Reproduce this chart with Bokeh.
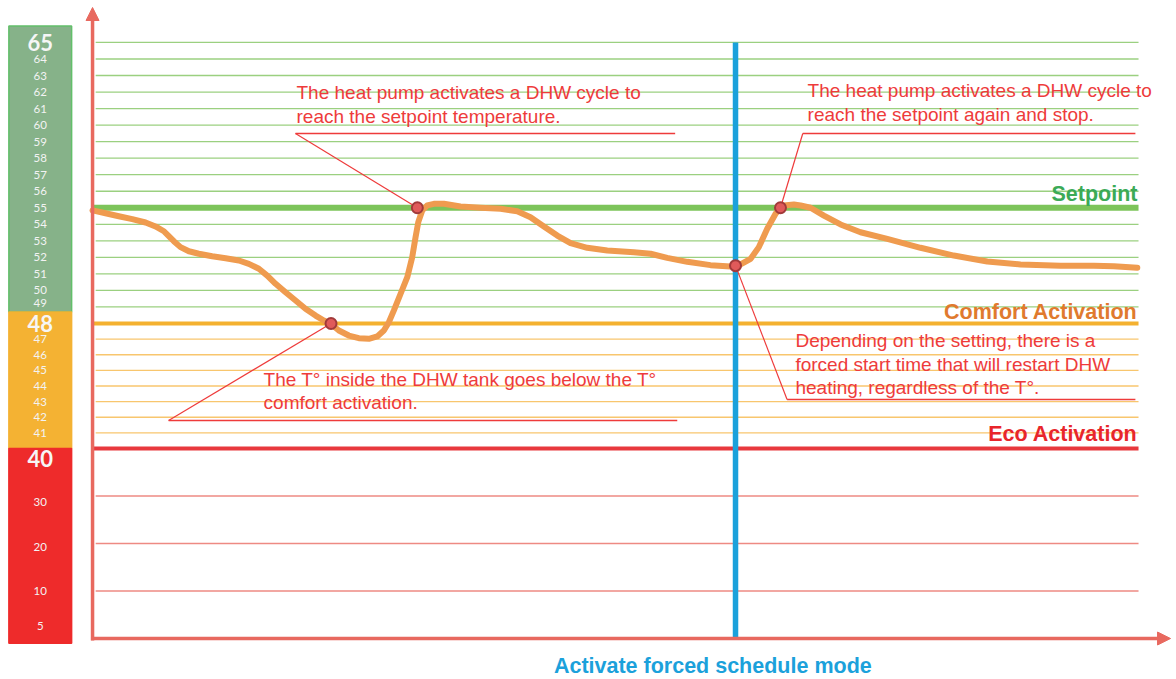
import numpy as np
from bokeh.plotting import figure
from bokeh.models import Range1d, Arrow, NormalHead
from bokeh.core.properties import value
from bokeh.embed import file_html
from bokeh.resources import INLINE

# ---------------- data ----------------
# tank temperature (°C) against time (arbitrary units 0..100)
time = [0.0, 1.24, 2.51, 3.80, 5.07, 6.02, 6.82, 7.29, 7.77, 8.41, 9.21, 10.16, 11.44,
        12.72, 13.99, 14.94, 15.90, 16.70, 17.50, 18.45, 19.41, 20.36, 21.32, 22.11,
        22.82, 23.55, 24.50, 25.46, 26.42, 27.22, 27.85, 28.33, 28.81, 29.45, 30.09,
        30.56, 30.88, 31.14, 31.52, 32.00, 32.63, 33.59, 35.18, 37.09, 39.01, 40.60,
        41.87, 43.15, 44.43, 45.70, 47.29, 49.21, 51.75, 53.35, 54.94, 56.86, 59.08,
        61.00, 61.95, 62.91, 63.70, 64.50, 65.30, 66.09, 67.05, 67.69, 68.64, 69.92,
        71.51, 73.42, 75.98, 79.16, 82.34, 85.54, 88.72, 92.54, 95.73, 97.64, 99.88]
temp = [54.84, 54.67, 54.49, 54.31, 54.11, 53.87, 53.58, 53.28, 52.98, 52.62, 52.37,
        52.22, 52.07, 51.95, 51.81, 51.61, 51.31, 50.90, 50.40, 49.89, 49.39, 48.89,
        48.48, 48.18, 47.95, 47.55, 47.23, 47.06, 47.02, 47.17, 47.55, 48.08, 48.79,
        49.80, 50.80, 52.01, 53.22, 54.13, 54.84, 55.14, 55.24, 55.24, 55.08, 55.00,
        54.94, 54.79, 54.43, 53.87, 53.32, 52.86, 52.58, 52.42, 52.31, 52.22, 51.97,
        51.73, 51.53, 51.45, 51.57, 51.91, 52.62, 53.73, 54.64, 55.14, 55.20, 55.14,
        55.00, 54.53, 53.99, 53.52, 53.12, 52.58, 52.11, 51.75, 51.57, 51.49, 51.49,
        51.47, 51.37]

event_time = [31.05, 22.8, 65.77, 61.47]
event_temp = [55.0, 48.0, 55.0, 51.5]

forced_time = 61.47          # "Activate forced schedule mode"
setpoint = 55
comfort = 48
eco = 40

green_ticks = list(range(49, 66))      # 49..65
orange_ticks = list(range(41, 48))     # 41..47
red_ticks = [10, 20, 30]

band_labels = [65, 64, 63, 62, 61, 60, 59, 58, 57, 56, 55, 54, 53, 52, 51, 50, 49,
               48, 47, 46, 45, 44, 43, 42, 41, 40, 30, 20, 10, 5]
band_bold = [65, 48, 40]
band_edges = [66.0, 48.7, 40.0, -1.0]

callout_texts = [
    ["The heat pump activates a DHW cycle to", "reach the setpoint temperature."],
    ["The T° inside the DHW tank goes below the T°", "comfort activation."],
    ["The heat pump activates a DHW cycle to", "reach the setpoint again and stop."],
    ["Depending on the setting, there is a", "forced start time that will restart DHW",
     "heating, regardless of the T°."],
]

# ---------------- scale (compressed below 40 °C) ----------------
SCALE_T = [-10, 40, 48, 70]
SCALE_POS = [-47.5, 190, 315, 678.7]


def pos(t):
    return np.interp(t, SCALE_T, SCALE_POS)


# ---------------- styles ----------------
AXIS_C = "#E8695F"
GREEN_THIN = "#9BD080"
GREEN_THICK = "#7DC45A"
ORANGE_THIN = "#F8C66E"
ORANGE_THICK = "#F4B130"
RED_THIN = "#EE8A83"
RED_THICK = "#E8383D"
BLUE = "#1BA1DB"
CURVE = "#EF9B4F"
NOTE = "#EE3B3B"
SANS = value("Liberation Sans")

p = figure(width=1176, height=679, output_backend="svg", toolbar_location=None,
           x_axis_type=None, y_axis_type=None, min_border=0,
           x_range=Range1d(-8.80, 103.63), y_range=Range1d(-41, 638))
p.grid.visible = False
p.outline_line_color = None
p.background_fill_color = "white"
p.border_fill_color = "white"

X0, X1 = 0.3, 100.0

# thin guide lines
for ticks, col in ((green_ticks, GREEN_THIN), (orange_ticks, ORANGE_THIN), (red_ticks, RED_THIN)):
    tk = [t for t in ticks if t != setpoint]
    p.segment(x0=[X0] * len(tk), x1=[X1] * len(tk), y0=pos(tk), y1=pos(tk),
              line_color=col, line_width=1.3)

# threshold lines
p.segment(x0=[0.0], x1=[X1], y0=pos([setpoint]), y1=pos([setpoint]), line_color=GREEN_THICK, line_width=6)
p.segment(x0=[0.0], x1=[X1], y0=pos([comfort]), y1=pos([comfort]), line_color=ORANGE_THICK, line_width=4)
p.segment(x0=[0.0], x1=[X1], y0=pos([eco]), y1=pos([eco]), line_color=RED_THICK, line_width=4)

# forced schedule vertical line
p.segment(x0=[forced_time], x1=[forced_time], y0=[0], y1=pos([65]), line_color=BLUE, line_width=5.5)

# left colour band
band_cols = ["#86B289", "#F4B233", "#EE2B2B"]
band_lines = ["#62BF6A", "#F4B233", "#EE2B2B"]
for i in range(3):
    p.quad(left=-8.0, right=-2.0, top=pos(band_edges[i]), bottom=pos(band_edges[i + 1]),
           fill_color=band_cols[i], line_color=band_lines[i], line_width=1.5)

nudge = {40: -10, 30: -6, 20: -3, 5: -11, 49: 4}
small = [v for v in band_labels if v not in band_bold]
p.text(x=[-5.0] * len(small), y=[float(pos(v)) + nudge.get(v, 0) for v in small],
       text=[str(v) for v in small], text_align="center", text_baseline="middle",
       text_font=value("Lato"), text_font_size="11.5px", text_color="#F3F3F3")
p.text(x=[-5.0] * len(band_bold), y=[float(pos(v)) + nudge.get(v, 0) for v in band_bold],
       text=[str(v) for v in band_bold], text_align="center", text_baseline="middle",
       text_font=value("Lato"), text_font_style="bold", text_font_size="22px", text_color="#F6F6F6")

# callout layout (t, height above x axis)
layout = [
    dict(tx=19.5, ty=[546, 522], rule=(19.4, 55.7, 505), ev=0),
    dict(tx=16.35, ty=[259, 236], rule=(7.27, 55.9, 218), ev=1),
    dict(tx=68.36, ty=[548, 524], rule=(67.9, 99.7, 505), ev=2),
    dict(tx=67.2, ty=[298, 274, 251], rule=(66.4, 99.7, 239), ev=3),
]
for lines, L in zip(callout_texts, layout):
    xa, xb, yr = L["rule"]
    p.segment(x0=[xa], x1=[xb], y0=[yr], y1=[yr], line_color=NOTE, line_width=1.4)
    e = L["ev"]
    p.segment(x0=[xa], y0=[yr], x1=[event_time[e]], y1=[float(pos(event_temp[e]))],
              line_color=NOTE, line_width=1.2)
    p.text(x=[L["tx"]] * len(lines), y=L["ty"], text=lines, text_align="left",
           text_baseline="middle", text_font=SANS, text_font_size="19px", text_color=NOTE)

# temperature curve
p.line(time, pos(temp), line_color=CURVE, line_width=6, line_join="round", line_cap="round")
p.scatter(event_time, pos(event_temp), size=11, fill_color="#E05A5A",
          line_color="#A13A3A", line_width=2)

# level labels
p.text(x=[99.9] * 3, y=[445, 327, 205], text=["Setpoint", "Comfort Activation", "Eco Activation"],
       text_align="right", text_baseline="middle", text_font=SANS, text_font_style="bold",
       text_font_size="21.5px", text_color=["#3BAA57", "#E07A2E", "#E8262B"])
p.text(x=[59.3], y=[-27], text=["Activate forced schedule mode"], text_align="center",
       text_baseline="middle", text_font=SANS, text_font_style="bold",
       text_font_size="21.5px", text_color=BLUE)

# axes with arrow heads
p.add_layout(Arrow(end=NormalHead(size=13, fill_color=AXIS_C, line_color=AXIS_C),
                   x_start=0, y_start=-2, x_end=0, y_end=631,
                   line_color=AXIS_C, line_width=3.5))
p.add_layout(Arrow(end=NormalHead(size=13, fill_color=AXIS_C, line_color=AXIS_C),
                   x_start=-0.15, y_start=0, x_end=103.06, y_end=0,
                   line_color=AXIS_C, line_width=3.5))

open("out.html", "w").write(file_html(p, INLINE))
